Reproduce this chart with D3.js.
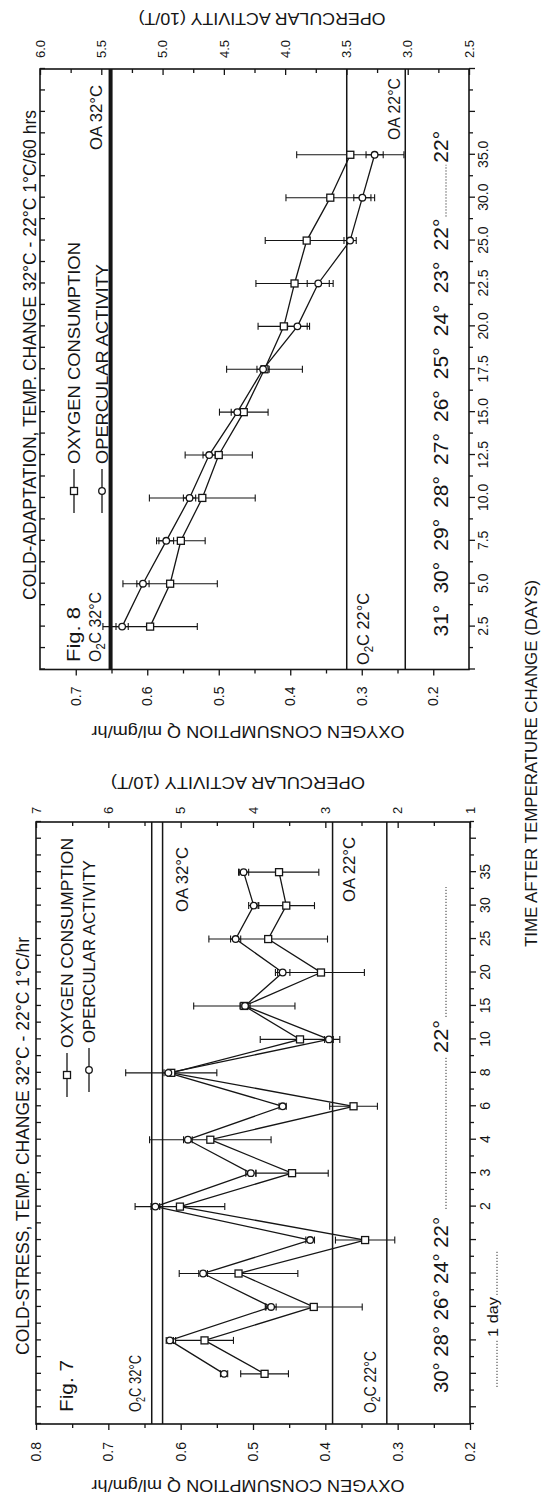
<!DOCTYPE html>
<html>
<head>
<meta charset="utf-8">
<title>Fig 7 / Fig 8</title>
<script src="https://cdn.jsdelivr.net/npm/d3@7"></script>
<style>
  body { margin: 0; background: #fff; }
  text { font-family: "Liberation Sans", Arial, sans-serif; fill: #151515; }
</style>
</head>
<body>
<svg id="chart" width="545" height="1501"></svg>
<script>
// ---- Fig 7 : cold-stress ----
const fig7Ticks = ["", "", "", "", "", "", "2", "3", "4", "6", "8", "10", "15", "20", "25", "30", "35", ""];
const fig7Pos = [1, 2, 3, 4, 5, 6, 7, 8, 9, 10, 11, 12, 13, 14, 15, 16];
const fig7Oxygen    = [0.484, 0.567, 0.416, 0.520, 0.345, 0.601, 0.446, 0.559, 0.361, 0.613, 0.435, 0.512, 0.406, 0.479, 0.454, 0.464];
const fig7OxygenErr = [0.033, 0.040, 0.067, 0.082, 0.041, 0.062, 0.050, 0.084, 0.033, 0.063, 0.055, 0.070, 0.060, 0.082, 0.039, 0.055];
const fig7Oper      = [4.40, 5.15, 3.75, 4.69, 3.21, 5.35, 4.03, 4.90, 3.59, 5.17, 2.95, 4.11, 3.59, 4.24, 3.99, 4.13];
const fig7OperErr   = [0.05, 0.05, 0.07, 0.06, 0.06, 0.06, 0.07, 0.06, 0.05, 0.06, 0.06, 0.07, 0.10, 0.07, 0.07, 0.07];
const fig7OxyTicks  = [0.8, 0.7, 0.6, 0.5, 0.4, 0.3, 0.2];
const fig7OperTicks = [7, 6, 5, 4, 3, 2, 1];
const fig7Ref = { o2c32: 0.640, oa32: 5.25, oa22: 2.90, o2c22: 0.315 };

// ---- Fig 8 : cold-adaptation ----
const fig8Ticks = ["2.5", "5.0", "7.5", "10.0", "12.5", "15.0", "17.5", "20.0", "22.5", "25.0", "30.0", "35.0"];
const fig8Pos = [0, 1, 2, 3, 4, 5, 6, 7, 8, 9, 10, 11];
const fig8Oxygen    = [0.596, 0.568, 0.553, 0.523, 0.500, 0.465, 0.436, 0.409, 0.394, 0.377, 0.344, 0.316];
const fig8OxygenErr = [0.066, 0.066, 0.034, 0.074, 0.047, 0.034, 0.053, 0.036, 0.054, 0.058, 0.062, 0.075];
const fig8Oper      = [5.33, 5.16, 4.97, 4.78, 4.62, 4.39, 4.18, 3.90, 3.73, 3.47, 3.37, 3.27];
const fig8OperErr   = [0.05, 0.05, 0.06, 0.05, 0.05, 0.05, 0.05, 0.08, 0.09, 0.05, 0.07, 0.07];
const fig8OxyTicks  = [0.7, 0.6, 0.5, 0.4, 0.3, 0.2];
const fig8OperTicks = [6.0, 5.5, 5.0, 4.5, 4.0, 3.5, 3.0, 2.5];
const fig8Ref = { o2c32: 0.652, oa32: 5.42, oa22: 3.02, o2c22: 0.321 };
const fig8Temps = ["31°", "30°", "29°", "28°", "27°", "26°", "25°", "24°", "23°", "22°"];

const svg = d3.select("#chart");
svg.append("rect").attr("width", 545).attr("height", 1501).attr("fill", "#fff");

// whole figure is printed sideways: draw it upright, then turn it
const root = svg.append("g").attr("transform", "translate(0,1501) rotate(-90)");

function txt(g, s, u, v, size, len, anchor) {
    let t = g.append("text").attr("x", u).attr("y", v).attr("font-size", size).text(s);
    if (len) t.attr("textLength", len).attr("lengthAdjust", "spacingAndGlyphs");
    if (anchor) t.attr("text-anchor", anchor);
    return t;
}

// O2C label with subscript 2
function o2c(g, rest, u, v, size, len) {
    let t = g.append("text").attr("x", u).attr("y", v).attr("font-size", size);
    t.append("tspan").text("O");
    t.append("tspan").attr("dy", 4).attr("font-size", size * 0.7).text("2");
    t.append("tspan").attr("dy", -4).text("C " + rest);
    if (len) t.attr("textLength", len).attr("lengthAdjust", "spacingAndGlyphs");
}

function styleAxis(sel, size) {
    sel.select(".domain").remove();
    sel.selectAll("line").attr("stroke", "#151515").attr("stroke-width", 1.3);
    sel.selectAll("text").attr("font-size", size)
        .attr("font-family", "'Liberation Sans', Arial, sans-serif").attr("fill", "#151515");
}

function drawPanel(p) {
    let g = root.append("g");
    let x = d3.scaleLinear().domain(p.idx).range([p.u0, p.u1]);
    let yOxy = d3.scaleLinear().domain(p.oxyDomain).range([p.v0, p.v1]);
    let yOper = d3.scaleLinear().domain(p.operDomain).range([p.v0, p.v1]);

    let ints = d3.range(Math.ceil(p.idx[0]), Math.floor(p.idx[1]) + 1);
    let halves = d3.range(p.idx[0], p.idx[1] + 0.01, 0.5).filter(d => !Number.isInteger(d));

    // time axis (outward) with labels
    g.append("g").attr("transform", `translate(0,${p.v1})`)
        .call(d3.axisBottom(x).tickValues(ints).tickSize(6).tickPadding(p.timePad)
            .tickFormat(i => p.ticks[i] || ""))
        .call(s => styleAxis(s, 14));
    g.append("g").attr("transform", `translate(0,${p.v1})`)
        .call(d3.axisBottom(x).tickValues(halves).tickSize(4).tickFormat(""))
        .call(s => styleAxis(s, 14));
    // top edge, inward ticks
    g.append("g").attr("transform", `translate(0,${p.v0})`)
        .call(d3.axisBottom(x).tickValues(ints.concat(halves)).tickSize(5).tickFormat(""))
        .call(s => styleAxis(s, 14));

    // oxygen axis (left, outward)
    g.append("g").attr("transform", `translate(${p.u0},0)`)
        .call(d3.axisLeft(yOxy).tickValues(p.oxyTicks).tickSize(6).tickPadding(p.leftPad)
            .tickFormat(d3.format(".1f")))
        .call(s => styleAxis(s, 14));
    g.append("g").attr("transform", `translate(${p.u0},0)`)
        .call(d3.axisLeft(yOxy).tickValues(p.oxyTicks.slice(0, -1).map(d => d - 0.05)).tickSize(4).tickFormat(""))
        .call(s => styleAxis(s, 14));

    // opercular axis (right, inward)
    g.append("g").attr("transform", `translate(${p.u1},0)`)
        .call(d3.axisRight(yOper).tickValues(p.operTicks).tickSizeInner(-6).tickSizeOuter(0)
            .tickPadding(p.rightPad).tickFormat(d3.format(p.operFmt)))
        .call(s => styleAxis(s, 13));
    g.append("g").attr("transform", `translate(${p.u1},0)`)
        .call(d3.axisRight(yOper).tickValues(p.operTicks.slice(0, -1).map(d => d - p.operStep / 2))
            .tickSizeInner(-4).tickSizeOuter(0).tickFormat(""))
        .call(s => styleAxis(s, 13));

    // frame
    g.append("rect").attr("x", p.u0).attr("y", p.v0)
        .attr("width", p.u1 - p.u0).attr("height", p.v1 - p.v0)
        .attr("fill", "none").attr("stroke", "#151515").attr("stroke-width", 1.6);

    // resting levels
    let refs = [
        { v: yOxy(p.ref.o2c32), w: p.thick },
        { v: yOper(p.ref.oa32), w: p.thick },
        { v: yOper(p.ref.oa22), w: 1.5 },
        { v: yOxy(p.ref.o2c22), w: 1.5 }
    ];
    g.selectAll(".ref").data(refs).enter().append("line")
        .attr("x1", p.u0).attr("x2", p.u1).attr("y1", d => d.v).attr("y2", d => d.v)
        .attr("stroke", "#151515").attr("stroke-width", d => d.w);

    let oxy = p.pos.map((t, i) => ({ t: t, v: p.oxy[i], e: p.oxyErr[i] }));
    let oper = p.pos.map((t, i) => ({ t: t, v: p.oper[i], e: p.operErr[i] }));

    // error bars
    function bars(data, y) {
        let b = g.append("g").attr("stroke", "#151515").attr("stroke-width", 1.1);
        data.forEach(d => {
            let cx = x(d.t), a = y(d.v - d.e), c = y(d.v + d.e);
            b.append("line").attr("x1", cx).attr("x2", cx).attr("y1", a).attr("y2", c);
            b.append("line").attr("x1", cx - 3.5).attr("x2", cx + 3.5).attr("y1", a).attr("y2", a);
            b.append("line").attr("x1", cx - 3.5).attr("x2", cx + 3.5).attr("y1", c).attr("y2", c);
        });
    }
    bars(oxy, yOxy);
    bars(oper, yOper);

    let lineOxy = d3.line().x(d => x(d.t)).y(d => yOxy(d.v));
    let lineOper = d3.line().x(d => x(d.t)).y(d => yOper(d.v));
    g.append("path").attr("d", lineOxy(oxy)).attr("fill", "none").attr("stroke", "#151515").attr("stroke-width", 1.3);
    g.append("path").attr("d", lineOper(oper)).attr("fill", "none").attr("stroke", "#151515").attr("stroke-width", 1.3);

    g.selectAll(".sq").data(oxy).enter().append("rect")
        .attr("x", d => x(d.t) - 3.5).attr("y", d => yOxy(d.v) - 3.5)
        .attr("width", 7).attr("height", 7)
        .attr("fill", "#fff").attr("stroke", "#151515").attr("stroke-width", 1.3);
    g.selectAll(".ci").data(oper).enter().append("circle")
        .attr("cx", d => x(d.t)).attr("cy", d => yOper(d.v)).attr("r", 3.3)
        .attr("fill", "#fff").attr("stroke", "#151515").attr("stroke-width", 1.3);

    // legend
    function legendRow(u, v, label, len, square) {
        g.append("line").attr("x1", u).attr("x2", u + 44).attr("y1", v).attr("y2", v)
            .attr("stroke", "#151515").attr("stroke-width", 1.3);
        if (square) {
            g.append("rect").attr("x", u + 18.5).attr("y", v - 3.5).attr("width", 7).attr("height", 7)
                .attr("fill", "#fff").attr("stroke", "#151515").attr("stroke-width", 1.3);
        } else {
            g.append("circle").attr("cx", u + 22).attr("cy", v).attr("r", 3.3)
                .attr("fill", "#fff").attr("stroke", "#151515").attr("stroke-width", 1.3);
        }
        txt(g, label, u + 49, v + 6, 17, len);
    }
    legendRow(p.leg.u1, p.leg.v1, "OXYGEN CONSUMPTION", p.leg.len1, true);
    legendRow(p.leg.u2, p.leg.v2, "OPERCULAR ACTIVITY", p.leg.len2, false);

    // axis titles
    g.append("text").attr("transform", `translate(${p.u0 - 56},248)rotate(-90)`)
        .attr("text-anchor", "middle").attr("font-size", 16)
        .attr("textLength", 313).attr("lengthAdjust", "spacingAndGlyphs")
        .text("OXYGEN CONSUMPTION Q ml/gm/hr");
    g.append("text").attr("transform", `translate(${p.u1 + p.rightTitle},${p.rightTitleV})rotate(-90)`)
        .attr("text-anchor", "middle").attr("font-size", 16)
        .attr("textLength", p.rightTitleLen).attr("lengthAdjust", "spacingAndGlyphs")
        .text("OPERCULAR ACTIVITY (10/T)");

    return { g: g, x: x };
}

// ---------- Fig 7 ----------
let f7 = drawPanel({
    idx: [-0.5, 17.5], u0: 77, u1: 679, v0: 36, v1: 470,
    oxyDomain: [0.8, 0.2], operDomain: [7, 1],
    oxyTicks: fig7OxyTicks, operTicks: fig7OperTicks, operFmt: "d", operStep: 1,
    ticks: fig7Ticks, pos: fig7Pos,
    oxy: fig7Oxygen, oxyErr: fig7OxygenErr, oper: fig7Oper, operErr: fig7OperErr,
    ref: fig7Ref, thick: 1.5,
    timePad: 4, leftPad: 12, rightPad: 8,
    rightTitle: 45, rightTitleV: 238, rightTitleLen: 254,
    leg: { u1: 404, v1: 67, len1: 210, u2: 409, v2: 89, len2: 183 }
});
txt(f7.g, "COLD-STRESS, TEMP. CHANGE 32°C - 22°C 1°C/hr", 146, 29, 18, 418);
txt(f7.g, "Fig. 7", 89, 73, 19, 52);
o2c(f7.g, "32°C", 89, 141, 17, 57);
o2c(f7.g, "22°C", 88, 376, 17, 62);
txt(f7.g, "OA 32°C", 589, 188, 17, 65);
txt(f7.g, "OA 22°C", 599, 355, 17, 65);
txt(f7.g, "30° 28° 26° 24° 22°", 108, 448, 21, 176);
txt(f7.g, "22°", 448, 448, 21, 33);
f7.g.append("line").attr("x1", 292).attr("x2", 445).attr("y1", 446).attr("y2", 446)
    .attr("stroke", "#333").attr("stroke-width", 1).attr("stroke-dasharray", "1.2,1.8");
f7.g.append("line").attr("x1", 484).attr("x2", 614).attr("y1", 446).attr("y2", 446)
    .attr("stroke", "#333").attr("stroke-width", 1).attr("stroke-dasharray", "1.2,1.8");
txt(f7.g, "1 day", 164, 498, 14, 40);
f7.g.append("line").attr("x1", 114).attr("x2", 162).attr("y1", 497).attr("y2", 497)
    .attr("stroke", "#333").attr("stroke-width", 1).attr("stroke-dasharray", "1.2,1.8");
f7.g.append("line").attr("x1", 206).attr("x2", 251).attr("y1", 497).attr("y2", 497)
    .attr("stroke", "#333").attr("stroke-width", 1).attr("stroke-dasharray", "1.2,1.8");

// ---------- Fig 8 ----------
let f8 = drawPanel({
    idx: [-1, 13], u0: 831.5, u1: 1432, v0: 40, v1: 469,
    oxyDomain: [0.75, 0.15], operDomain: [6.0, 2.5],
    oxyTicks: fig8OxyTicks, operTicks: fig8OperTicks, operFmt: ".1f", operStep: 0.5,
    ticks: fig8Ticks, pos: fig8Pos,
    oxy: fig8Oxygen, oxyErr: fig8OxygenErr, oper: fig8Oper, operErr: fig8OperErr,
    ref: fig8Ref, thick: 3,
    timePad: 3, leftPad: 11, rightPad: 11,
    rightTitle: 56, rightTitleV: 262, rightTitleLen: 247,
    leg: { u1: 988, v1: 74, len1: 222, u2: 988, v2: 102, len2: 200 }
});
txt(f8.g, "COLD-ADAPTATION, TEMP. CHANGE 32°C - 22°C 1°C/60 hrs", 901, 36, 18, 490);
txt(f8.g, "Fig. 8", 839, 80, 19, 55);
o2c(f8.g, "32°C", 839, 101, 17, 70);
o2c(f8.g, "22°C", 836, 369, 17, 72);
txt(f8.g, "OA 32°C", 1351, 102, 17, 65);
txt(f8.g, "OA 22°C", 1361, 400, 17, 62);
f8.g.selectAll(".temp").data(fig8Temps).enter().append("text")
    .attr("x", (d, i) => f8.x(fig8Pos[i]) + 6).attr("y", 448)
    .attr("text-anchor", "middle").attr("font-size", 21).text(d => d);
f8.g.append("text").attr("x", f8.x(11) + 8).attr("y", 448)
    .attr("text-anchor", "middle").attr("font-size", 21).text("22°");
f8.g.append("line").attr("x1", f8.x(9) + 24).attr("x2", f8.x(11) - 10).attr("y1", 446).attr("y2", 446)
    .attr("stroke", "#333").attr("stroke-width", 1).attr("stroke-dasharray", "1.2,1.8");

// shared time title
txt(root, "TIME AFTER TEMPERATURE CHANGE (DAYS)", 554, 537, 16, 367);
</script>
</body>
</html>
